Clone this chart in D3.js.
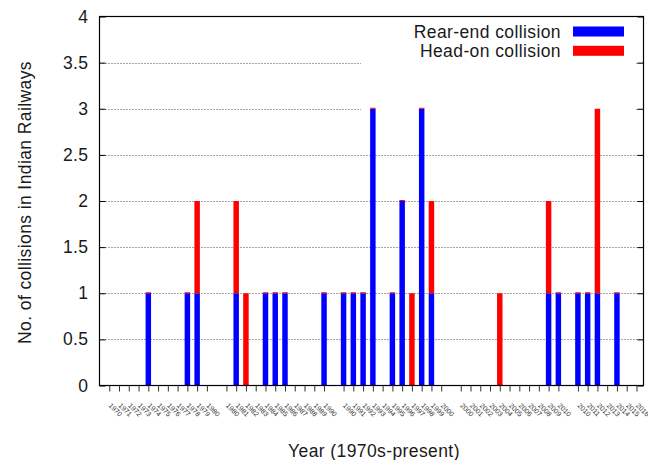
<!DOCTYPE html>
<html>
<head>
<meta charset="utf-8">
<script src="https://cdn.jsdelivr.net/npm/d3@7"></script>
<style>
  html, body { margin: 0; padding: 0; background: #fff; }
  svg text { font-family: "Liberation Sans", Arial, sans-serif; }
</style>
</head>
<body>
<svg id="chart" width="648" height="460"></svg>
<script>
// ---- data ----
const group1970s = ["1970","1971","1972","1973","1974","1975","1976","1977","1978","1979","1980"];
const group1980s = ["1980","1981","1982","1983","1984","1985","1986","1987","1988","1989","1990"];
const group1990s = ["1990","1991","1992","1993","1994","1995","1996","1997","1998","1999","2000"];
const group2000s = ["2000","2001","2002","2003","2004","2005","2006","2007","2008","2009","2010"];
const group2010s = ["2010","2011","2012","2013","2014","2015","2016"];

const rearEnd1970s = [0,0,0,0,1,0,0,0,1,1,0];
const rearEnd1980s = [0,1,0,0,1,1,1,0,0,0,1];
const rearEnd1990s = [1,1,1,3,0,1,2,0,3,1,0];
const rearEnd2000s = [0,0,0,0,0,0,0,0,0,1,1];
const rearEnd2010s = [1,1,1,0,1,0,0];

const headOn1970s = [0,0,0,0,0,0,0,0,0,1,0];
const headOn1980s = [0,1,1,0,0,0,0,0,0,0,0];
const headOn1990s = [0,0,0,0,0,0,0,1,0,1,0];
const headOn2000s = [0,0,0,0,1,0,0,0,0,1,0];
const headOn2010s = [0,0,2,0,0,0,0];

const seriesNames = ["Rear-end collision", "Head-on collision"];
const seriesColors = ["#0000ff", "#ff0000"];
const yTicks = [0, 0.5, 1, 1.5, 2, 2.5, 3, 3.5, 4];
const yTickLabels = ["0","0.5","1","1.5","2","2.5","3","3.5","4"];
const xTitle = "Year (1970s-present)";
const yTitle = "No. of collisions in Indian Railways";

// ---- build slot table (gnuplot-style newhistogram groups, 1 empty slot between groups) ----
const groups = [
  {labels: group1970s, rear: rearEnd1970s, head: headOn1970s},
  {labels: group1980s, rear: rearEnd1980s, head: headOn1980s},
  {labels: group1990s, rear: rearEnd1990s, head: headOn1990s},
  {labels: group2000s, rear: rearEnd2000s, head: headOn2000s},
  {labels: group2010s, rear: rearEnd2010s, head: headOn2010s}
];
const slots = [];
let offset = 0;
groups.forEach(g => {
  g.labels.forEach((lab, i) => {
    slots.push({slot: offset + i, label: lab, rear: g.rear[i], head: g.head[i]});
  });
  offset += g.labels.length + 1;
});
const lastSlot = slots[slots.length - 1].slot;

// ---- layout ----
const plotL = 99.5, plotR = 643.5, plotT = 16.5, plotB = 385.5;
const svg = d3.select("#chart");
const x = d3.scaleLinear().domain([-1, lastSlot + 0.72]).range([plotL, plotR]);
const y = d3.scaleLinear().domain([0, 4]).range([plotB, plotT]);
const slotW = x(1) - x(0);
const barW = slotW * 0.56;

const fontSize = "17.5px";
const letterSp = "0.4px";

// grid
svg.append("g").selectAll("line")
  .data(yTicks.filter(v => v > 0 && v < 4))
  .join("line")
  .attr("x1", plotL).attr("x2", plotR)
  .attr("y1", d => Math.round(y(d)) + 0.5).attr("y2", d => Math.round(y(d)) + 0.5)
  .attr("stroke", "#4a4a4a").attr("stroke-width", 1)
  .attr("stroke-dasharray", "1,2");

// key background (opaque)
svg.append("rect")
  .attr("x", 361).attr("y", plotT + 1)
  .attr("width", 274).attr("height", 93)
  .attr("fill", "#fff");

// bars (rowstacked)
const barG = svg.append("g");
slots.forEach(s => {
  const segs = [
    {b: 0, v: s.rear, c: seriesColors[0]},
    {b: s.rear, v: s.head, c: seriesColors[1]}
  ];
  if (s.rear + s.head === 0) return;
  segs.forEach(seg => {
    let y0 = y(seg.b + seg.v), h = y(seg.b) - y(seg.b + seg.v);
    if (h < 1) { y0 = y(seg.b) - 1; h = 1; }
    barG.append("rect")
      .attr("x", x(s.slot) - barW / 2)
      .attr("y", y0)
      .attr("width", barW)
      .attr("height", h)
      .attr("fill", seg.c);
  });
});

// frame
svg.append("rect")
  .attr("x", plotL).attr("y", plotT)
  .attr("width", plotR - plotL).attr("height", plotB - plotT)
  .attr("fill", "none").attr("stroke", "#000").attr("stroke-width", 1.2);

// y axis (ticks inward, mirrored)
const yAxis = d3.axisLeft(y).tickValues(yTicks)
  .tickFormat((d, i) => yTickLabels[i]).tickSize(-6).tickPadding(11);
const yg = svg.append("g").attr("transform", `translate(${plotL},0)`).call(yAxis);
yg.select(".domain").remove();
yg.selectAll("line").attr("stroke", "#000");
yg.selectAll("text").attr("font-size", fontSize).attr("letter-spacing", letterSp)
  .attr("fill", "#1a1a1a").attr("font-family", "Liberation Sans, Arial, sans-serif");
const yAxisR = d3.axisRight(y).tickValues(yTicks).tickFormat("").tickSize(-6);
const ygr = svg.append("g").attr("transform", `translate(${plotR},0)`).call(yAxisR);
ygr.select(".domain").remove();
ygr.selectAll("line").attr("stroke", "#000");

// x axis (ticks outward), rotated small labels
const xAxis = d3.axisBottom(x).tickValues(slots.map(s => s.slot))
  .tickFormat((d, i) => slots[i].label).tickSize(6);
const xg = svg.append("g").attr("transform", `translate(0,${plotB})`).call(xAxis);
xg.select(".domain").remove();
xg.selectAll("line").attr("stroke", "#333");
xg.selectAll("text")
  .attr("font-size", "7px").attr("fill", "#333")
  .attr("font-family", "Liberation Sans, Arial, sans-serif")
  .attr("text-anchor", "start")
  .attr("y", 0).attr("dy", 0)
  .attr("x", 0)
  .attr("transform", "translate(-1.5,20.5) rotate(45)");

// axis titles
svg.append("text")
  .attr("x", 374).attr("y", 456.5)
  .attr("text-anchor", "middle")
  .attr("font-size", fontSize).attr("letter-spacing", letterSp)
  .attr("fill", "#1a1a1a").text(xTitle);
svg.append("text")
  .attr("transform", "translate(30.5,202.5) rotate(-90)")
  .attr("text-anchor", "middle")
  .attr("font-size", fontSize).attr("letter-spacing", letterSp)
  .attr("fill", "#1a1a1a").text(yTitle);

// key
const keyG = svg.append("g");
seriesNames.forEach((name, i) => {
  keyG.append("text")
    .attr("x", 561).attr("y", 37.7 + i * 19)
    .attr("text-anchor", "end")
    .attr("font-size", fontSize).attr("letter-spacing", letterSp)
    .attr("fill", "#1a1a1a").text(name);
  keyG.append("rect")
    .attr("x", 573).attr("y", 26.5 + i * 19.3)
    .attr("width", 51).attr("height", 10)
    .attr("fill", seriesColors[i]);
});
</script>
</body>
</html>
